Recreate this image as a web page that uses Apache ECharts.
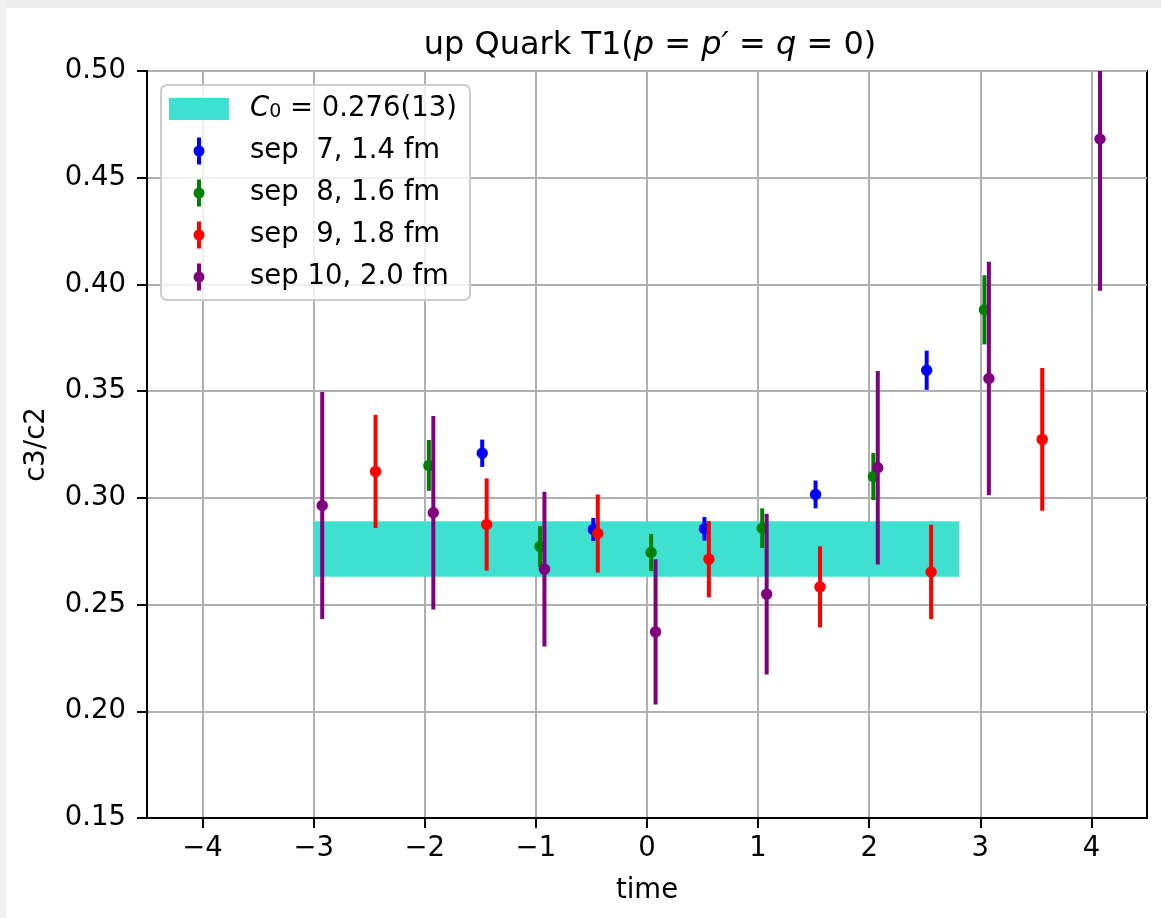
<!DOCTYPE html>
<html>
<head>
<meta charset="utf-8">
<script src="https://cdn.jsdelivr.net/npm/echarts@6/dist/echarts.min.js"></script>
<style>
  html, body { margin: 0; padding: 0; background: #ffffff; }
  #chart { width: 1161px; height: 918px; }
</style>
</head>
<body>
<div id="chart"></div>
<script>
// Ratio c3/c2 versus insertion time for several source-sink separations.
const xTicks = [-4, -3, -2, -1, 0, 1, 2, 3, 4];
const yTicks = [0.15, 0.20, 0.25, 0.30, 0.35, 0.40, 0.45, 0.50];

// fitted plateau C0 = 0.276(13), drawn over the fit window
const bandCenter = 0.276;
const bandError = 0.013;
const bandStart = -3.0;
const bandEnd = 2.81;
const bandLabel = 'C0 = 0.276(13)';

const seriesNames = ['sep  7, 1.4 fm', 'sep  8, 1.6 fm', 'sep  9, 1.8 fm', 'sep 10, 2.0 fm'];
const seriesColors = ['#0000ff', '#008000', '#ff0000', '#800080'];

const sep7X = [-1.483, -0.483, 0.517, 1.517, 2.517];
const sep7Y = [0.3209, 0.2852, 0.2855, 0.3016, 0.3598];
const sep7E = [0.0064, 0.0054, 0.0055, 0.0065, 0.0092];

const sep8X = [-1.963, -0.963, 0.037, 1.037, 2.037, 3.037];
const sep8Y = [0.3152, 0.2772, 0.2744, 0.2858, 0.3100, 0.3881];
const sep8E = [0.0119, 0.0096, 0.0087, 0.0093, 0.0110, 0.0162];

const sep9X = [-2.443, -1.443, -0.443, 0.557, 1.557, 2.557, 3.557];
const sep9Y = [0.3124, 0.2875, 0.2833, 0.2713, 0.2583, 0.2653, 0.3274];
const sep9E = [0.0265, 0.0216, 0.0183, 0.0179, 0.0190, 0.0221, 0.0334];

const sep10X = [-2.923, -1.923, -0.923, 0.077, 1.077, 2.077, 3.077, 4.077];
const sep10Y = [0.2964, 0.2930, 0.2666, 0.2372, 0.2549, 0.3141, 0.3559, 0.4681];
const sep10E = [0.0532, 0.0453, 0.0363, 0.0340, 0.0377, 0.0453, 0.0547, 0.0711];

const FONT = 'DejaVu Sans';
const FS = 27.5;
const groups = [
  [sep7X, sep7Y, sep7E],
  [sep8X, sep8Y, sep8E],
  [sep9X, sep9Y, sep9E],
  [sep10X, sep10Y, sep10E]
];

function triples(xs, ys, es) {
  return xs.map((x, i) => [x, ys[i], es[i]]);
}

function errorBarItem(color) {
  return function (params, api) {
    const x = api.value(0), y = api.value(1), e = api.value(2);
    const top = api.coord([x, y + e]);
    const bot = api.coord([x, y - e]);
    const c = api.coord([x, y]);
    return {
      type: 'group',
      children: [
        { type: 'line', shape: { x1: top[0], y1: top[1], x2: bot[0], y2: bot[1] },
          style: { stroke: color, lineWidth: 4 } },
        { type: 'circle', shape: { cx: c[0], cy: c[1], r: 5.7 },
          style: { fill: color } }
      ]
    };
  };
}

function bandItem(params, api) {
  const p0 = api.coord([api.value(0), api.value(2) + api.value(3)]);
  const p1 = api.coord([api.value(1), api.value(2) - api.value(3)]);
  return {
    type: 'rect',
    shape: { x: p0[0], y: p0[1], width: p1[0] - p0[0], height: p1[1] - p0[1] },
    style: { fill: '#40e0d0' }
  };
}

// legend glyphs: a flat patch and a vertical error stroke with a round marker
const patchIcon = 'path://M0,0L60,0L60,22L0,22Z';
const errIcon = 'path://M3.5,0L7.5,0L7.5,27L3.5,27Z M0,13.5A5.5,5.5,0,1,1,11,13.5A5.5,5.5,0,1,1,0,13.5Z';

const series = [{
  name: bandLabel,
  type: 'custom',
  renderItem: bandItem,
  itemStyle: { color: '#40e0d0' },
  encode: { x: [0, 1], y: 2 },
  data: [[bandStart, bandEnd, bandCenter, bandError]],
  clip: true,
  z: 2
}];
groups.forEach((g, k) => {
  series.push({
    name: seriesNames[k],
    type: 'custom',
    renderItem: errorBarItem(seriesColors[k]),
    itemStyle: { color: seriesColors[k] },
    encode: { x: 0, y: 1 },
    data: triples(g[0], g[1], g[2]),
    clip: true,
    z: 3 + k
  });
});

const legendData = [{ name: bandLabel, icon: patchIcon,
  itemStyle: { color: '#40e0d0', borderWidth: 0 } }];
seriesNames.forEach((n, k) => {
  legendData.push({ name: n, icon: errIcon,
    itemStyle: { color: seriesColors[k], borderWidth: 0, opacity: 1 } });
});

const chart = echarts.init(document.getElementById('chart'), null, { renderer: 'canvas' });
chart.setOption({
  animation: false,
  backgroundColor: '#ffffff',
  title: {
    text: '{n|up Quark T1(}{i|p}{n| = }{i|p′}{n| = }{i|q}{n| = 0)}',
    left: 645,
    textAlign: 'center',
    top: 25,
    textStyle: {
      fontWeight: 'normal',
      rich: {
        n: { fontFamily: FONT, fontSize: 32, fontWeight: 'normal', color: '#000' },
        i: { fontFamily: FONT, fontSize: 32, fontWeight: 'normal', fontStyle: 'italic', color: '#000' }
      }
    }
  },
  legend: {
    orient: 'vertical',
    left: 161,
    top: 85,
    padding: [8, 13, 9, 8],
    itemWidth: 60,
    itemHeight: 27,
    itemGap: 14,
    backgroundColor: 'rgba(255,255,255,0.8)',
    borderColor: '#cccccc',
    borderWidth: 2,
    borderRadius: 6,
    selectedMode: false,
    symbolKeepAspect: true,
    data: legendData,
    formatter: function (name) {
      if (name === bandLabel) {
        return '{c|C}{s|0}{t| = 0.276(13)}';
      }
      return '{t|' + name + '}';
    },
    textStyle: {
      padding: [0, 0, 0, 16],
      fontFamily: FONT,
      fontSize: FS,
      lineHeight: 26,
      color: '#000',
      rich: {
        t: { fontFamily: FONT, fontSize: FS, lineHeight: 26, color: '#000' },
        c: { fontFamily: FONT, fontSize: FS, lineHeight: 26, fontStyle: 'italic', color: '#000' },
        s: { fontFamily: FONT, fontSize: 19, lineHeight: 26, color: '#000', verticalAlign: 'bottom', padding: [10, 0, 0, 0] }
      }
    }
  },
  grid: {
    left: 147,
    right: 14,
    top: 71,
    bottom: 100,
    show: true,
    borderColor: '#000000',
    borderWidth: 2,
    backgroundColor: 'transparent'
  },
  xAxis: {
    type: 'value',
    min: -4.5,
    max: 4.5,
    name: 'time',
    nameLocation: 'middle',
    nameGap: 59,
    nameTextStyle: { fontFamily: FONT, fontSize: FS, color: '#000' },
    axisLine: { show: true, onZero: false, lineStyle: { color: '#000', width: 2 } },
    axisTick: { show: true, inside: false, length: 10, customValues: xTicks,
      lineStyle: { color: '#000', width: 2 } },
    axisLabel: {
      show: true,
      margin: 17,
      customValues: xTicks,
      fontFamily: FONT,
      fontSize: FS,
      color: '#000',
      formatter: function (v) {
        return v < 0 ? '\u2212' + Math.abs(v) : String(v);
      }
    },
    splitLine: { show: true, lineStyle: { color: '#b0b0b0', width: 2 } }
  },
  yAxis: {
    type: 'value',
    min: yTicks[0],
    max: yTicks[yTicks.length - 1],
    interval: 0.05,
    name: 'c3/c2',
    nameLocation: 'middle',
    nameGap: 96,
    nameRotate: 90,
    nameTextStyle: { fontFamily: FONT, fontSize: FS, color: '#000' },
    axisLine: { show: true, onZero: false, lineStyle: { color: '#000', width: 2 } },
    axisTick: { show: true, inside: false, length: 10, lineStyle: { color: '#000', width: 2 } },
    axisLabel: {
      margin: 21,
      fontFamily: FONT,
      fontSize: FS,
      color: '#000',
      formatter: function (v) { return v.toFixed(2); }
    },
    splitLine: { show: true, lineStyle: { color: '#b0b0b0', width: 2 } }
  },
  graphic: [
    { type: 'rect', shape: { x: 0, y: 0, width: 1161, height: 8 },
      style: { fill: '#ececec' }, z: 100 },
    { type: 'rect', shape: { x: 0, y: 0, width: 6, height: 918 },
      style: { fill: '#f0f0f0' }, z: 100 }
  ],
  series: series
});
</script>
</body>
</html>
